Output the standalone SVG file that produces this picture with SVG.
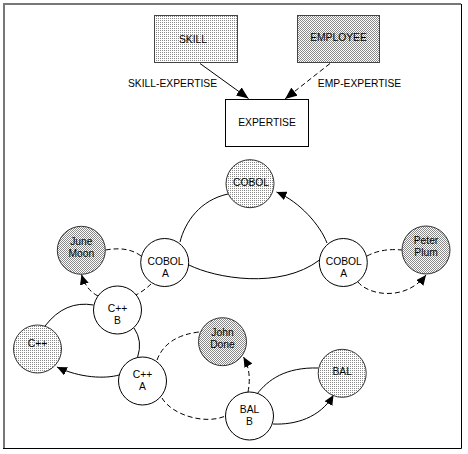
<svg xmlns="http://www.w3.org/2000/svg" width="468" height="454" viewBox="0 0 468 454">
<defs>
<pattern id="dots" patternUnits="userSpaceOnUse" x="0" y="0" width="2" height="2">
<rect width="2" height="2" fill="#ffffff"/>
<rect width="1" height="1" fill="#8a8a8a"/>
</pattern>
<pattern id="checks" patternUnits="userSpaceOnUse" x="0" y="0" width="2" height="2">
<rect width="2" height="2" fill="#ffffff"/>
<rect width="1" height="1" fill="#8a8a8a"/>
<rect x="1" y="1" width="1" height="1" fill="#8a8a8a"/>
</pattern>
<marker id="arrowBig" markerUnits="userSpaceOnUse" markerWidth="13" markerHeight="10" refX="12" refY="5" orient="auto">
<path d="M0,0 L12,5 L0,10 z" fill="#000"/>
</marker>
<marker id="arrow" markerUnits="userSpaceOnUse" markerWidth="11" markerHeight="9" refX="10" refY="4.5" orient="auto">
<path d="M0,0 L10,4.5 L0,9 z" fill="#000"/>
</marker>
</defs>
<style>
text { font-family: "Liberation Sans", Arial, sans-serif; font-size: 10.3px; fill: #000; text-anchor: middle; }
.box { stroke: #000; stroke-width: 1; }
.pbox { stroke: #444; stroke-width: 1; }
.node { stroke: #000; stroke-width: 1; fill: #fff; }
.dotted { fill: url(#dots); stroke: #333; stroke-width: 1; }
.checked { fill: url(#checks); stroke: #333; stroke-width: 1; }
.c { fill: none; stroke: #000; stroke-width: 1; }
.d { fill: none; stroke: #000; stroke-width: 1; stroke-dasharray: 5,3; }
</style>
<rect width="468" height="454" fill="#fff"/>
<g id="frame">
<polyline points="4,448 4,4 461,4" fill="none" stroke="#777" stroke-width="2"/>
<polyline points="461.5,4 461.5,448.5 3,448.5" fill="none" stroke="#000" stroke-width="1"/>
</g>
<g id="connectors">
<path class="c" d="M200,63.5 L248.5,98.5" marker-end="url(#arrowBig)"/>
<path class="d" d="M330,63.5 L285,99" marker-end="url(#arrowBig)"/>
<path class="c" d="M180,242 C185,222 200,200 228,194"/>
<path class="c" d="M327,243 C320,225 300,202 276.5,192" marker-end="url(#arrow)"/>
<path class="c" d="M189,265 C215,278 280,290 319.5,260"/>
<path class="d" d="M105.5,250 Q128,246 141,256"/>
<path class="d" d="M151,284 Q145,290 136,295"/>
<path class="d" d="M98,296 Q86,290 81.5,274.5" marker-end="url(#arrow)"/>
<path class="d" d="M367,256 Q382,248 402,250"/>
<path class="d" d="M358,282 C368,295 405,302 426,275" marker-end="url(#arrow)"/>
<path class="c" d="M93.5,305 Q65,300 45,326"/>
<path class="c" d="M134,328 Q143,341 137.5,357.5"/>
<path class="c" d="M119,375 C105,379 80,378 57,367" marker-end="url(#arrow)"/>
<path class="d" d="M157,360 Q166,336 199,332"/>
<path class="d" d="M162,398 C172,415 205,425 225.5,416"/>
<path class="d" d="M248,392 Q252,372 243.5,357" marker-end="url(#arrow)"/>
<path class="c" d="M257,394 C268,380 285,367 318.5,368"/>
<path class="c" d="M273,424 C295,425 320,418 333.5,395" marker-end="url(#arrow)"/>
</g>
<g id="skill">
<rect class="pbox" x="154.5" y="15.5" width="83" height="47" fill="url(#dots)"/>
<text x="193" y="42.5">SKILL</text>
</g>
<g id="employee">
<rect class="pbox" x="297.5" y="15.5" width="82" height="47" fill="url(#checks)"/>
<text x="338.5" y="41">EMPLOYEE</text>
</g>
<g id="expertise">
<rect class="box" x="225.5" y="99.5" width="83" height="47" fill="#fff"/>
<text x="267" y="125.5">EXPERTISE</text>
</g>
<g id="label-skill-expertise">
<text x="172.5" y="86.5">SKILL-EXPERTISE</text>
</g>
<g id="label-emp-expertise">
<text x="359.5" y="86.5">EMP-EXPERTISE</text>
</g>
<g id="cobol">
<circle class="dotted" cx="250" cy="183.7" r="24"/>
<text x="251" y="185.5">COBOL</text>
</g>
<g id="june-moon">
<circle class="checked" cx="81.3" cy="250.3" r="24"/>
<text x="81.3" y="245">June</text>
<text x="81.3" y="257">Moon</text>
</g>
<g id="cobol-a-left">
<circle class="node" cx="164.7" cy="262.5" r="24"/>
<text x="165.5" y="265">COBOL</text>
<text x="165.5" y="277.3">A</text>
</g>
<g id="cobol-a-right">
<circle class="node" cx="343.3" cy="262.5" r="24"/>
<text x="343.8" y="265">COBOL</text>
<text x="343.8" y="277.3">A</text>
</g>
<g id="peter-plum">
<circle class="checked" cx="426" cy="250" r="24"/>
<text x="426" y="244.3">Peter</text>
<text x="426" y="255.5">Plum</text>
</g>
<g id="cpp-b">
<circle class="node" cx="117.5" cy="310" r="24"/>
<text x="117.5" y="312.3">C++</text>
<text x="117.5" y="324">B</text>
</g>
<g id="cpp">
<circle class="dotted" cx="37.5" cy="349" r="24"/>
<text x="37.5" y="347.3">C++</text>
</g>
<g id="john-done">
<circle class="checked" cx="222.5" cy="341.7" r="24"/>
<text x="222.5" y="336.3">John</text>
<text x="222.5" y="347.5">Done</text>
</g>
<g id="cpp-a">
<circle class="node" cx="142.5" cy="381" r="24"/>
<text x="142.5" y="378.3">C++</text>
<text x="142.5" y="390">A</text>
</g>
<g id="bal-b">
<circle class="node" cx="249.5" cy="416" r="24"/>
<text x="249.5" y="413.3">BAL</text>
<text x="249.5" y="425">B</text>
</g>
<g id="bal">
<circle class="dotted" cx="342.2" cy="373.3" r="24"/>
<text x="342.2" y="375">BAL</text>
</g>
</svg>
